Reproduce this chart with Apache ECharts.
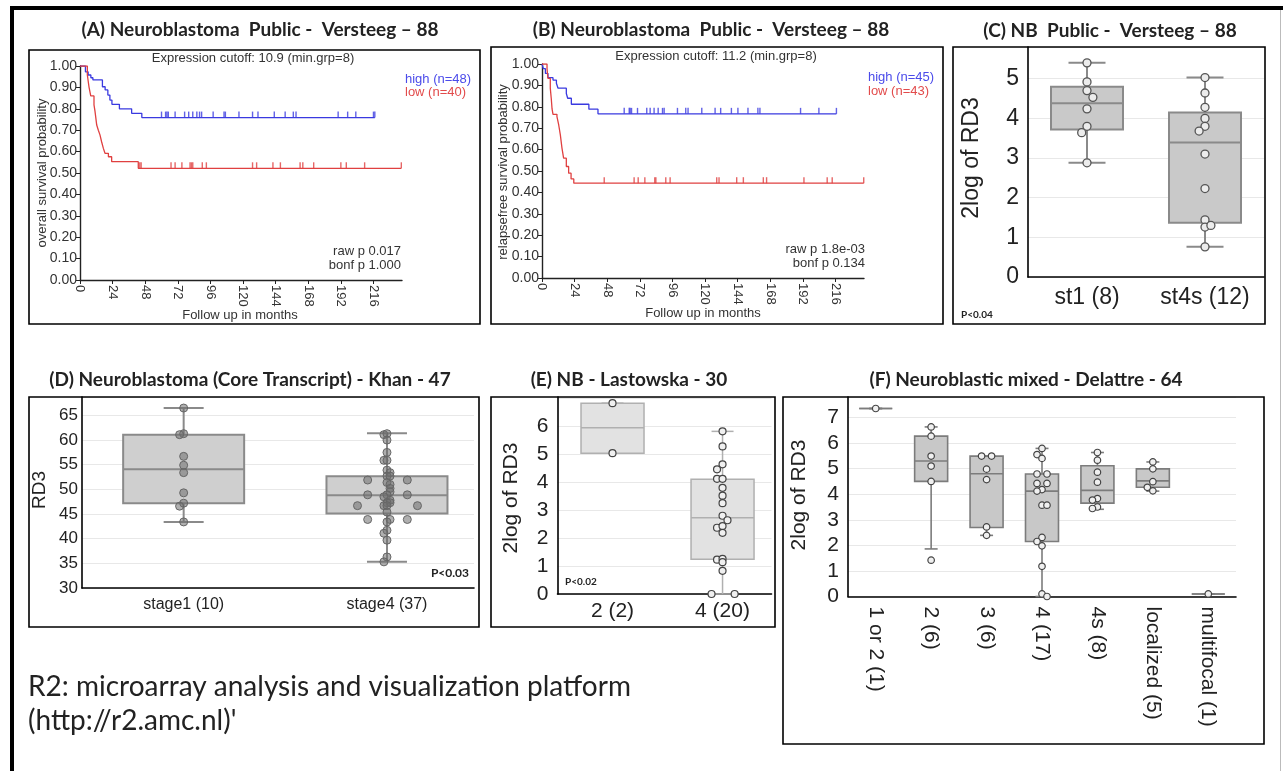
<!DOCTYPE html>
<html><head><meta charset="utf-8">
<script src="https://cdn.jsdelivr.net/npm/echarts@6.0.0/dist/echarts.min.js"></script>
<style>html,body{margin:0;padding:0;background:#fff}#chart{width:1285px;height:771px}</style>
</head><body><div id="chart"></div>
<script>
// ---------------- DATA ----------------
const kmXTicks = [0, 24, 48, 72, 96, 120, 144, 168, 192, 216];

// Panel A: overall survival
const aHighTime = [0, 4, 6, 8, 9.5, 16.5, 18.5, 20.5, 22, 23.5, 29, 38, 45.5, 217];
const aHighSurv = [1, 0.973, 0.958, 0.945, 0.935, 0.903, 0.888, 0.864, 0.841, 0.821, 0.80, 0.779, 0.759, 0.759];
const aHighCensor = [60, 63, 64, 65, 70, 77, 80, 83, 86, 88, 89.5, 98, 106, 107, 117, 127, 131, 143, 151, 157, 159, 190, 197, 203, 216, 217];
const aLowTime = [0, 5.4, 6.6, 7.9, 10.3, 11, 11.6, 12.3, 13.5, 14.7, 15.9, 17.2, 18.4, 20.9, 23.3, 42.9, 236.5];
const aLowSurv = [1, 0.958, 0.903, 0.86, 0.818, 0.79, 0.76, 0.724, 0.70, 0.678, 0.646, 0.615, 0.592, 0.576, 0.553, 0.522, 0.522];
const aLowCensor = [44, 45, 67, 70, 75, 81, 82, 83, 90, 93, 127, 130, 142, 147.5, 162, 164, 172, 192, 196, 209.5, 236.5];

// Panel B: relapse-free survival
const bHighTime = [0, 1, 2.5, 4.4, 8.1, 10.6, 11.8, 17.9, 18.9, 21.6, 34.5, 41.2, 216.7];
const bHighSurv = [1, 0.978, 0.956, 0.936, 0.925, 0.91, 0.887, 0.862, 0.84, 0.812, 0.789, 0.767, 0.767];
const bHighCensor = [60.5, 64.2, 64.9, 65.9, 70.3, 77.1, 79.6, 82.5, 85.5, 88.7, 89.9, 99.7, 105.8, 107.5, 117.6, 127.4, 131.5, 139.4, 144.2, 151.6, 158.9, 160.4, 190.3, 203.8, 216.7];
const bLowTime = [0, 3.7, 4.4, 6.1, 6.8, 7.4, 8.1, 11.0, 12.3, 13.5, 14.7, 15.9, 17.9, 19.6, 21.4, 23.4, 236.8];
const bLowSurv = [1, 0.977, 0.933, 0.887, 0.84, 0.79, 0.765, 0.754, 0.715, 0.669, 0.607, 0.56, 0.521, 0.49, 0.463, 0.443, 0.443];
const bLowCensor = [45.8, 67.8, 70.8, 75.7, 83, 83.8, 91.1, 94.3, 128.6, 130.3, 143.3, 148.2, 162.9, 165.3, 192.8, 209.9, 213.6, 236.8];

// Panel C (boxes: [low, q1, median, q3, high]; points: [value, jitter])
const cCategories = ['st1 (8)', 'st4s (12)'];
const cBoxes = [[2.88, 3.72, 4.38, 4.80, 5.40], [0.76, 1.37, 3.39, 4.15, 5.03]];
const cPoints = [
  [[5.40,0],[4.92,0],[4.70,0],[4.53,0.1],[4.24,0],[3.80,0],[3.64,-0.09],[2.88,0]],
  [[5.03,0],[4.64,0],[4.28,0],[4.00,0],[3.80,0],[3.68,-0.1],[3.10,0],[2.23,0],[1.44,0],[1.26,0],[1.30,0.1],[0.76,0]]
];

// Panel D
const dCategories = ['stage1 (10)', 'stage4 (37)'];
const dBoxes = [[43.4, 47.2, 54.1, 61.1, 66.5], [35.3, 45.1, 48.8, 52.65, 61.4]];
const dPoints = [
  [[66.5,0],[61.3,0],[61.1,-0.04],[56.7,0],[54.9,0],[53.4,0],[49.3,0],[47.2,0],[46.6,-0.04],[43.4,0]],
  [[61.1,-0.03],[61.3,0],[60.0,0],[57.5,0],[55.9,-0.03],[55.9,0],[53.9,0],[53.4,0.03],[52.7,0],[52.7,0.03],
   [51.9,-0.19],[51.9,0.2],[51.4,0],[51.0,0.03],[50.2,0.03],[49.5,0.03],[48.9,0],[48.9,-0.19],[48.9,0.2],[48.5,-0.03],
   [47.8,0.03],[47.3,0],[47.3,0.03],[46.7,-0.03],[46.7,0],[46.7,-0.29],[46.7,0.3],[45.4,0],[43.9,-0.19],[43.9,0.2],
   [43.9,0.03],[43.4,0],[41.7,0],[41.1,-0.03],[39.7,0],[36.3,0],[35.3,-0.03]]
];

// Panel E
const eCategories = ['2 (2)', '4 (20)'];
const eBoxes = [[5.04, 5.04, 5.95, 6.83, 6.83], [0, 1.24, 2.73, 4.11, 5.82]];
const ePoints = [
  [[6.83,0],[5.04,0]],
  [[5.82,0],[5.28,0],[4.64,0],[4.46,-0.1],[4.12,-0.1],[4.12,0],[3.80,0],[3.52,0],[3.25,0],[2.80,0],
   [2.64,0.09],[2.37,-0.1],[2.43,0],[2.19,0],[1.23,-0.1],[1.26,0],[1.14,0],[0.83,0],[0,-0.2],[0,0.22]]
];

// Panel F
const fCategories = ['1 or 2 (1)', '2 (6)', '3 (6)', '4 (17)', '4s (8)', 'localized (5)', 'multifocal (1)'];
const fBoxes = [
  [7.35, 7.35, 7.35, 7.35, 7.35],
  [1.86, 4.50, 5.30, 6.27, 6.63],
  [2.39, 2.70, 4.80, 5.49, 5.49],
  [0, 2.15, 4.12, 4.79, 5.79],
  [3.41, 3.65, 4.15, 5.11, 5.63],
  [4.12, 4.27, 4.52, 4.99, 5.26],
  [0.10, 0.10, 0.10, 0.10, 0.10]
];
const fPoints = [
  [[7.35,0]],
  [[6.63,0],[6.27,0],[5.49,0],[5.10,0],[4.50,0],[1.42,0]],
  [[5.49,-0.18],[5.49,0.18],[4.98,0],[4.57,0],[2.72,0],[2.39,0]],
  [[5.79,0],[5.55,-0.18],[5.40,0],[4.79,-0.18],[4.79,0.18],[4.42,-0.18],[4.42,0.18],[4.18,0],[4.12,-0.18],[3.57,0],
   [3.57,0.18],[2.31,0],[2.15,-0.18],[1.98,0],[1.18,0],[0.10,0],[0,0.18]],
  [[5.63,0],[5.33,0],[4.86,0],[4.47,0],[3.83,0],[3.77,-0.18],[3.50,0],[3.44,-0.18]],
  [[5.26,0],[4.99,0],[4.49,0],[4.27,-0.2],[4.13,0]],
  [[0.10,0]]
];

// ---------------- HELPERS ----------------
const BLUE = '#3a3ae0', RED = '#e04040';
const ARIAL = '"Liberation Sans", Arial, sans-serif';
const CAL = 'Lato, "Open Sans", sans-serif';
const catPos = i => 2 * i + 1;

function survAt(times, surv, t) {
  let s = surv[0];
  for (let i = 0; i < times.length; i++) { if (times[i] <= t) s = surv[i]; }
  return s;
}
function kmLine(times, surv, gi, color) {
  return { type: 'line', xAxisIndex: gi, yAxisIndex: gi, step: 'end', showSymbol: false, silent: true,
    data: times.map((t, i) => [t, surv[i]]), lineStyle: { color: color, width: 1.3 } };
}
function kmCensor(cens, times, surv, gi, color) {
  return { type: 'scatter', xAxisIndex: gi, yAxisIndex: gi, symbol: 'rect', symbolSize: [1.4, 6],
    symbolOffset: [0, -3], silent: true, itemStyle: { color: color },
    data: cens.map(t => [t, survAt(times, surv, t)]) };
}
function boxSeries(boxes, gi, st) {
  return { type: 'custom', xAxisIndex: gi, yAxisIndex: gi, silent: true, z: 2,
    data: boxes.map((b, i) => [catPos(i)].concat(b)),
    encode: { x: 0, y: [1, 2, 3, 4, 5] },
    renderItem: function (params, api) {
      const x = api.value(0);
      const lo = api.coord([x, api.value(1)]), q1 = api.coord([x, api.value(2)]),
            md = api.coord([x, api.value(3)]), q3 = api.coord([x, api.value(4)]), hi = api.coord([x, api.value(5)]);
      const cx = lo[0], ls = { stroke: st.stroke, lineWidth: st.lw };
      return { type: 'group', children: [
        { type: 'line', shape: { x1: cx, y1: lo[1], x2: cx, y2: hi[1] }, style: ls },
        { type: 'line', shape: { x1: cx - st.cap / 2, y1: lo[1], x2: cx + st.cap / 2, y2: lo[1] }, style: ls },
        { type: 'line', shape: { x1: cx - st.cap / 2, y1: hi[1], x2: cx + st.cap / 2, y2: hi[1] }, style: ls },
        { type: 'rect', shape: { x: cx - st.w / 2, y: q3[1], width: st.w, height: q1[1] - q3[1] },
          style: { fill: st.fill, stroke: st.stroke, lineWidth: st.lw } },
        { type: 'line', shape: { x1: cx - st.w / 2, y1: md[1], x2: cx + st.w / 2, y2: md[1] }, style: ls }
      ] };
    } };
}
function pointSeries(points, gi, st) {
  const data = [];
  points.forEach((grp, i) => grp.forEach(p => data.push([catPos(i) + p[1], p[0]])));
  return { type: 'scatter', xAxisIndex: gi, yAxisIndex: gi, silent: true, z: 3, symbol: 'circle',
    symbolSize: st.size, data: data,
    itemStyle: { color: st.fill, borderColor: st.border, borderWidth: st.bw, opacity: 1 } };
}
function kmX(gi) {
  return { type: 'value', gridIndex: gi, min: 0, max: 237, interval: 24,
    axisLine: { show: true, onZero: false, lineStyle: { color: '#222', width: 1.4 } },
    axisTick: { show: true, length: 4, customValues: kmXTicks, lineStyle: { color: '#222' } },
    splitLine: { show: false },
    axisLabel: { rotate: -90, margin: 5, fontSize: 13, color: '#333', fontFamily: ARIAL,
      customValues: kmXTicks, formatter: v => (v % 24 === 0 ? String(v) : '') } };
}
function kmY(gi) {
  return { type: 'value', gridIndex: gi, min: 0, max: 1, interval: 0.1,
    axisLine: { show: true, onZero: false, lineStyle: { color: '#222', width: 1.4 } },
    axisTick: { show: true, length: 4, lineStyle: { color: '#222' } },
    splitLine: { show: false },
    axisLabel: { margin: 3, fontSize: 14, color: '#333', fontFamily: ARIAL, formatter: v => v.toFixed(2) } };
}
function boxX(gi, max, cats, font, rotate, margin) {
  return { type: 'value', gridIndex: gi, min: 0, max: max, interval: 1,
    axisLine: { show: true, onZero: false, lineStyle: { color: '#000', width: 1.6 } },
    axisTick: { show: false }, splitLine: { show: false },
    axisLabel: { fontSize: font, color: '#222', fontFamily: ARIAL, rotate: rotate || 0, margin: margin,
      formatter: v => (Number.isInteger(v) && v % 2 === 1 && cats[(v - 1) / 2] !== undefined ? cats[(v - 1) / 2] : '') } };
}
function boxY(gi, min, max, interval, top, font, margin) {
  return { type: 'value', gridIndex: gi, min: min, max: max, interval: interval,
    axisLine: { show: true, onZero: false, lineStyle: { color: '#000', width: 1.6 } },
    axisTick: { show: false },
    splitLine: { show: true, lineStyle: { color: '#e8e8e8', width: 1 } },
    axisLabel: { fontSize: font, color: '#222', fontFamily: ARIAL, margin: margin,
      formatter: v => (Math.abs(v / interval - Math.round(v / interval)) < 1e-6 && v <= top ? String(v) : '') } };
}
function T(text, x, y, font, fill, align, rot) {
  return { type: 'text', x: x, y: y, rotation: rot || 0, z: 20, silent: true,
    style: { text: text, font: font, fill: fill || '#222', textAlign: align || 'center', textVerticalAlign: 'middle' } };
}
function R(x, y, w, h, lw, color) {
  return { type: 'rect', z: 19, silent: true, shape: { x: x, y: y, width: w, height: h },
    style: { fill: 'none', stroke: color || '#000', lineWidth: lw } };
}

// ---------------- CHART ----------------
const chart = echarts.init(document.getElementById('chart'), null, { renderer: 'canvas' });
const stC = { w: 72, cap: 37, fill: '#c9c9c9', stroke: '#8a8a8a', lw: 2 };
const stD = { w: 121, cap: 40, fill: '#cfcfcf', stroke: '#8a8a8a', lw: 2 };
const stE = { w: 63, cap: 22, fill: '#e2e2e2', stroke: '#b0b0b0', lw: 1.5 };
const stF = { w: 33, cap: 13, fill: '#c8c8c8', stroke: '#7c7c7c', lw: 1.6 };
const ptOpen = { size: 8, fill: '#ececec', border: '#555', bw: 1.3 };
const ptD = { size: 8, fill: 'rgba(110,110,110,0.55)', border: '#666', bw: 1 };
const ptSmall = { size: 7, fill: '#f0f0f0', border: '#444', bw: 1.2 };
const TITLE = 'bold 19px ' + CAL;
const KM = '13px ' + ARIAL;

const option = {
  animation: false,
  backgroundColor: '#fff',
  grid: [
    { left: 80, top: 66, width: 322, height: 214 },
    { left: 542, top: 64, width: 322, height: 214 },
    { left: 1028, top: 47, width: 236, height: 230 },
    { left: 82, top: 397, width: 392, height: 191 },
    { left: 557.5, top: 397, width: 214, height: 197 },
    { left: 848, top: 397, width: 388, height: 199.5 }
  ],
  xAxis: [
    kmX(0), kmX(1),
    boxX(2, 4, cCategories, 23, 0, 9),
    boxX(3, 3.856, dCategories, 16, 0, 9),
    boxX(4, 3.89, eCategories, 21, 0, 7),
    boxX(5, 14, fCategories, 21, -90, 10)
  ],
  yAxis: [
    kmY(0), kmY(1),
    boxY(2, 0, 5.8, 1, 5, 23, 9),
    boxY(3, 30, 68.74, 5, 65, 17, 4),
    boxY(4, 0, 7.05, 1, 6, 21, 9),
    boxY(5, 0, 7.8, 1, 7, 21, 9)
  ],
  series: [
    kmLine(aHighTime, aHighSurv, 0, BLUE), kmLine(aLowTime, aLowSurv, 0, RED),
    kmCensor(aHighCensor, aHighTime, aHighSurv, 0, BLUE), kmCensor(aLowCensor, aLowTime, aLowSurv, 0, RED),
    kmLine(bHighTime, bHighSurv, 1, BLUE), kmLine(bLowTime, bLowSurv, 1, RED),
    kmCensor(bHighCensor, bHighTime, bHighSurv, 1, BLUE), kmCensor(bLowCensor, bLowTime, bLowSurv, 1, RED),
    boxSeries(cBoxes, 2, stC), pointSeries(cPoints, 2, ptOpen),
    boxSeries(dBoxes, 3, stD), pointSeries(dPoints, 3, ptD),
    boxSeries(eBoxes, 4, stE), pointSeries(ePoints, 4, ptSmall),
    boxSeries(fBoxes, 5, stF), pointSeries(fPoints, 5, { size: 6.5, fill: '#f0f0f0', border: '#444', bw: 1.2 })
  ],
  graphic: [
    // outer frame
    { type: 'rect', z: 19, silent: true, shape: { x: 10, y: 6, width: 4, height: 765 }, style: { fill: '#000' } },
    { type: 'rect', z: 19, silent: true, shape: { x: 10, y: 6, width: 1273, height: 4 }, style: { fill: '#000' } },
    { type: 'rect', z: 19, silent: true, shape: { x: 1280, y: 10, width: 1, height: 761 }, style: { fill: '#bbb' } },
    // panel frames
    R(29, 50, 451, 274, 1.6), R(491, 47, 452, 277, 1.6), R(953, 47, 312, 277, 1.6),
    R(29, 397, 450, 230, 1.6), R(491, 397, 284, 230, 1.6), R(783, 397, 481, 347, 1.6),
    // titles
    T('(A) Neuroblastoma  Public -  Versteeg \u2013 88', 260, 30, TITLE),
    T('(B) Neuroblastoma  Public -  Versteeg \u2013 88', 711, 30, TITLE),
    T('(C) NB  Public -  Versteeg \u2013 88', 1110, 31, TITLE),
    T('(D) Neuroblastoma (Core Transcript) - Khan - 47', 250, 380, TITLE),
    T('(E) NB - Lastowska - 30', 629, 380, TITLE),
    T('(F) Neuroblastic mixed - Delattre - 64', 1026, 380, TITLE),
    // panel A texts
    T('Expression cutoff: 10.9 (min.grp=8)', 253, 58, KM, '#333'),
    T('high (n=48)', 405, 79, KM, '#4b4bea', 'left'),
    T('low (n=40)', 405, 92, KM, '#e24b4b', 'left'),
    T('raw p 0.017', 401, 251, KM, '#333', 'right'),
    T('bonf p 1.000', 401, 265, KM, '#333', 'right'),
    T('Follow up in months', 240, 315, KM, '#333'),
    T('overall survival probability', 42, 173, KM, '#333', 'center', Math.PI / 2),
    // panel B texts
    T('Expression cutoff: 11.2 (min.grp=8)', 716, 56, KM, '#333'),
    T('high (n=45)', 868, 77, KM, '#4b4bea', 'left'),
    T('low (n=43)', 868, 91, KM, '#e24b4b', 'left'),
    T('raw p 1.8e-03', 865, 249, KM, '#333', 'right'),
    T('bonf p 0.134', 865, 263, KM, '#333', 'right'),
    T('Follow up in months', 703, 313, KM, '#333'),
    T('relapsefree survival probability', 503, 172, KM, '#333', 'center', Math.PI / 2),
    // panel C texts
    T('2log of RD3', 972, 158, '23px ' + ARIAL, '#222', 'center', Math.PI / 2),
    T('P<0.04', 961, 315, 'bold 10px ' + CAL, '#222', 'left'),
    // panel D texts
    T('RD3', 40, 490, '19px ' + ARIAL, '#222', 'center', Math.PI / 2),
    T('P<0.03', 469, 573, 'bold 12px ' + CAL, '#222', 'right'),
    // panel E texts
    T('2log of RD3', 511, 498, '21px ' + ARIAL, '#222', 'center', Math.PI / 2),
    T('P<0.02', 565, 582, 'bold 10px ' + CAL, '#222', 'left'),
    // panel F texts
    T('2log of RD3', 799, 495, '21px ' + ARIAL, '#222', 'center', Math.PI / 2),
    // footer
    T('R2: microarray analysis and visualization platform', 28, 687, '28px ' + CAL, '#222', 'left'),
    T("(http://r2.amc.nl)'", 28, 721, '28px ' + CAL, '#222', 'left')
  ]
};
chart.setOption(option);
</script></body></html>
